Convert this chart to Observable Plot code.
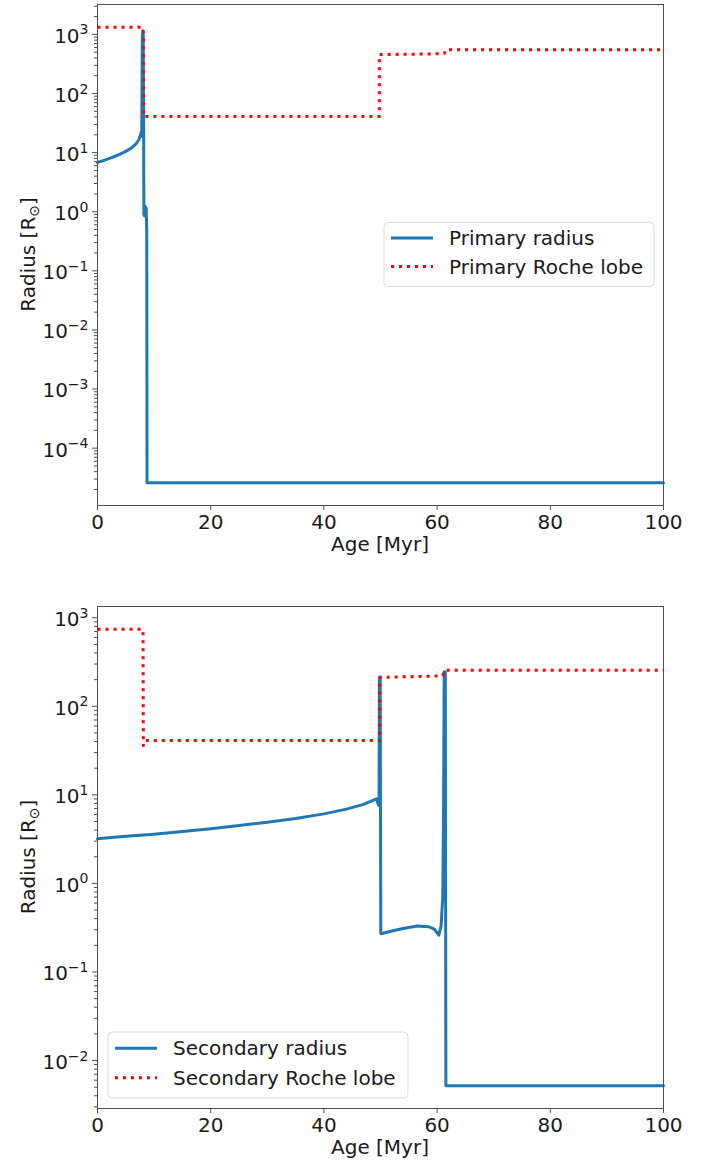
<!DOCTYPE html>
<html>
<head>
<meta charset="utf-8">
<script src="https://cdn.jsdelivr.net/npm/d3@7"></script>
<script src="https://cdn.jsdelivr.net/npm/@observablehq/plot@0.6"></script>
<style>
  html, body { margin: 0; padding: 0; background: white; overflow: hidden; }
  #charts svg { display: block; }
</style>
</head>
<body>
<div id="charts"></div>
<script>
// ---- Data ----
const primaryAge    = [0, 1, 2, 3, 4, 5, 6, 6.8, 7.3, 7.6, 7.75, 7.82, 7.87, 7.92, 8.0, 8.08, 8.14, 8.2, 8.3, 8.36, 8.45, 8.6, 8.7, 8.75, 100];
const primaryRadius = [6.8, 7.3, 7.9, 8.6, 9.4, 10.5, 12.0, 14.0, 16.5, 20, 23, 19, 150, 900, 1150, 1000, 40, 0.9, 0.85, 1.25, 1.2, 1.15, 0.5, 2.6e-5, 2.6e-5];
const primaryRocheAge = [0, 7.9, 8.1, 8.15, 49.8, 49.8, 60.8, 61.3, 61.5, 100];
const primaryRoche    = [1320, 1320, 1250, 41, 41, 455, 470, 480, 550, 550];

const secondaryAge    = [0, 5, 10, 15, 20, 25, 30, 35, 40, 44, 47, 49.3, 49.65, 49.75, 49.8, 49.95, 50.05, 52, 54, 56.5, 58.5, 59.5, 60.3, 60.7, 61.0, 61.15, 61.25, 61.45, 61.55, 100];
const secondaryRadius = [3.2, 3.4, 3.6, 3.85, 4.15, 4.5, 4.9, 5.4, 6.1, 6.9, 7.8, 9.0, 7.6, 8.5, 200, 215, 0.27, 0.29, 0.31, 0.33, 0.325, 0.305, 0.26, 0.33, 0.7, 8, 245, 245, 0.0052, 0.0052];
const secondaryRocheAge = [0, 7.9, 8.05, 8.1, 8.25, 49.85, 49.85, 60.5, 61.0, 61.3, 100];
const secondaryRoche    = [740, 740, 720, 36, 41, 41, 212, 220, 222, 255, 255];

const xTicks = [0, 20, 40, 60, 80, 100];
const topYTicks = [1e-4, 1e-3, 1e-2, 1e-1, 1, 1e1, 1e2, 1e3];
const bottomYTicks = [1e-2, 1e-1, 1, 1e1, 1e2, 1e3];
const xLabel = "Age [Myr]";
const yLabelMain = "Radius [R";
const yLabelSub = "⊙";
const topLegend = ["Primary radius", "Primary Roche lobe"];
const bottomLegend = ["Secondary radius", "Secondary Roche lobe"];

const BLUE = "#1f77b4";
const RED = "#ff0000";
const AX = "#4d4d4d";
const TXT = "#1a1a1a";

function expFormat(d) {
  const e = Math.round(Math.log10(d));
  return "10^" + String(e).replace("-", "\u2212");
}

function panel(cfg) {
  const all = cfg.radius.concat(cfg.roche);
  const lo = Math.log10(d3.min(all)), hi = Math.log10(d3.max(all));
  const pad = 0.05 * (hi - lo);
  const domain = [10 ** (lo - pad), 10 ** (hi + pad)];
  const minor = [];
  for (let e = Math.floor(lo - pad); e <= Math.ceil(hi + pad); e++) {
    for (let k = 2; k <= 9; k++) {
      const v = k * 10 ** e;
      if (v >= domain[0] && v <= domain[1]) minor.push(v);
    }
  }
  const radiusData = cfg.age.map((a, i) => ({age: a, r: cfg.radius[i]}));
  const rocheData = cfg.rocheAge.map((a, i) => ({age: a, r: cfg.roche[i]}));
  const ml = 97, mr = 50;
  const chart = Plot.plot({
    width: 713,
    height: cfg.height,
    marginTop: cfg.marginTop,
    marginBottom: cfg.marginBottom,
    marginLeft: ml,
    marginRight: mr,
    style: {fontFamily: "DejaVu Sans", fontSize: "20px", color: TXT, background: "white", overflow: "visible"},
    x: {domain: [0, 100]},
    y: {type: "log", domain},
    marks: [
      Plot.line(radiusData, {x: "age", y: "r", stroke: BLUE, strokeWidth: 3}),
      Plot.line(rocheData, {x: "age", y: "r", stroke: RED, strokeWidth: 3, strokeDasharray: "3,5", strokeLinecap: "butt"}),
      Plot.frame({stroke: AX, strokeWidth: 1}),
      Plot.axisX(xTicks, {tickSize: 5, tickPadding: 4, label: null, stroke: AX, fill: TXT, tickFormat: d => String(d)}),
      Plot.axisY(minor, {tickSize: 3, label: null, stroke: AX, tickFormat: () => ""}),
      Plot.axisY(cfg.yTicks, {tickSize: 5, tickPadding: 4, label: null, stroke: AX, fill: TXT, tickFormat: expFormat})
    ]
  });
  const svg = d3.select(chart);
  // superscript exponents
  svg.selectAll('g[aria-label="y-axis tick label"] text').each(function() {
    const s = this.textContent;
    if (!s.includes("^")) return;
    const [base, exp] = s.split("^");
    const t = d3.select(this);
    t.text("");
    t.append("tspan").attr("dy", "0.1em").text(base);
    t.append("tspan").attr("dy", "-0.6em").attr("font-size", "14px").text(exp);
  });
  const top = cfg.marginTop, bottom = cfg.height - cfg.marginBottom;
  const cx = ml + (713 - ml - mr) / 2;
  svg.append("text")
    .attr("x", cx).attr("y", bottom + 39).attr("dy", "0.35em")
    .attr("text-anchor", "middle").attr("fill", TXT).attr("font-size", 20)
    .text(xLabel);
  const yl = svg.append("text")
    .attr("transform", `translate(28,${(top + bottom) / 2}) rotate(-90)`)
    .attr("dy", "0.35em").attr("text-anchor", "middle").attr("fill", TXT).attr("font-size", 20);
  yl.append("tspan").text(yLabelMain);
  yl.append("tspan").attr("font-size", 14).attr("dy", "0.3em").text(yLabelSub);
  yl.append("tspan").attr("dy", "-0.21em").text("]");
  // legend
  const L = cfg.legend;
  const g = svg.append("g");
  g.append("rect").attr("x", L.x).attr("y", L.y).attr("width", L.w).attr("height", L.h)
    .attr("rx", 4).attr("fill", "white").attr("fill-opacity", 0.8).attr("stroke", "#d9d9d9");
  const rows = [L.row1, L.row2];
  const styles = [
    {stroke: BLUE, dash: null, cap: "butt"},
    {stroke: RED, dash: "3,5", cap: "butt"}
  ];
  cfg.legendNames.forEach((name, i) => {
    g.append("line").attr("x1", L.x + 7).attr("x2", L.x + 49).attr("y1", rows[i]).attr("y2", rows[i])
      .attr("stroke", styles[i].stroke).attr("stroke-width", 3)
      .attr("stroke-dasharray", styles[i].dash).attr("stroke-linecap", styles[i].cap);
    g.append("text").attr("x", L.x + 65).attr("y", rows[i]).attr("dy", "0.35em")
      .attr("text-anchor", "start")
      .attr("fill", TXT).attr("font-size", 20).text(name);
  });
  return chart;
}

const container = document.getElementById("charts");
container.appendChild(panel({
  age: primaryAge, radius: primaryRadius, rocheAge: primaryRocheAge, roche: primaryRoche,
  yTicks: topYTicks, legendNames: topLegend,
  height: 565, marginTop: 4, marginBottom: 60,
  legend: {x: 384, y: 222.5, w: 270, h: 64, row1: 238, row2: 266.5}
}));
container.appendChild(panel({
  age: secondaryAge, radius: secondaryRadius, rocheAge: secondaryRocheAge, roche: secondaryRoche,
  yTicks: bottomYTicks, legendNames: bottomLegend,
  height: 599, marginTop: 41, marginBottom: 56,
  legend: {x: 108, y: 467, w: 300, h: 66, row1: 483.3, row2: 512.7}
}));
</script>
</body>
</html>
